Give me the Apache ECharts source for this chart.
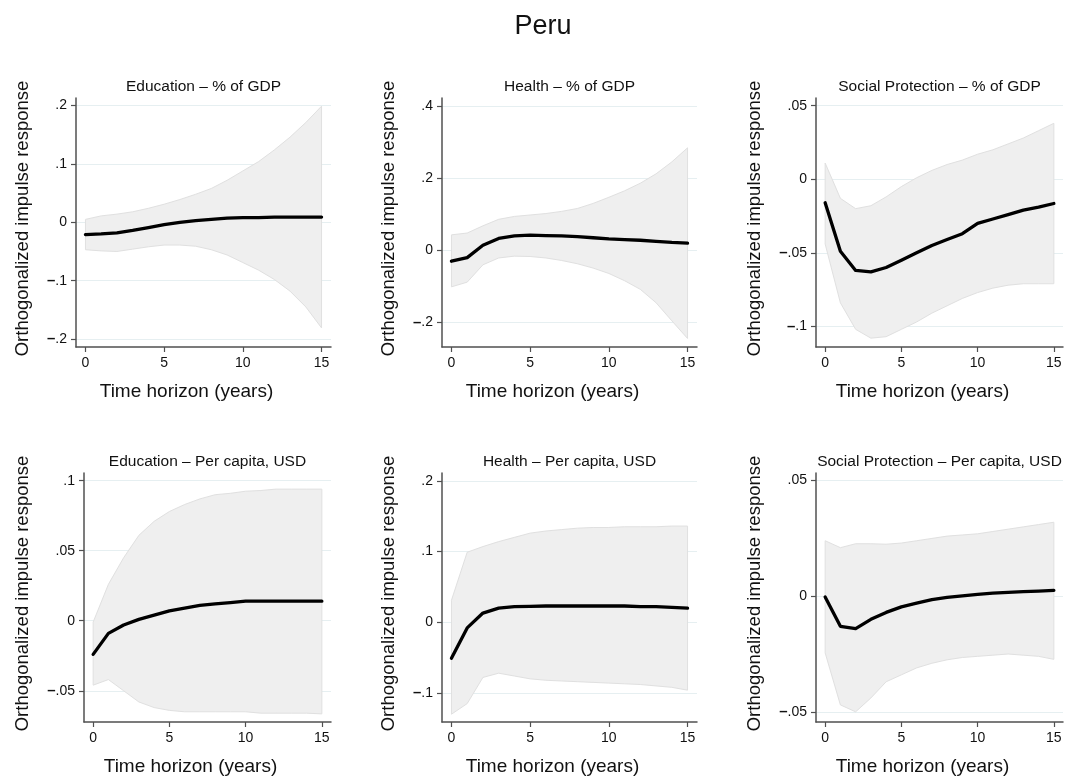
<!DOCTYPE html>
<html>
<head>
<meta charset="utf-8">
<title>Peru</title>
<script src="https://cdn.jsdelivr.net/npm/echarts@6/dist/echarts.min.js"></script>
<style>
  html, body { margin: 0; padding: 0; background: #fff; }
  #main { width: 1067px; height: 778px; }
</style>
</head>
<body>
<div id="main"></div>
<script>
// horizon (years)
var horizon = [0, 1, 2, 3, 4, 5, 6, 7, 8, 9, 10, 11, 12, 13, 14, 15];
var xTicks = [0, 5, 10, 15];

var panelTitles = [
  'Education – % of GDP', 'Health – % of GDP', 'Social Protection – % of GDP',
  'Education – Per capita, USD', 'Health – Per capita, USD', 'Social Protection – Per capita, USD'
];

// Education, % of GDP
var eduGdpMean  = [-0.021, -0.020, -0.018, -0.014, -0.009, -0.004, 0.000, 0.003, 0.005, 0.007, 0.008, 0.008, 0.009, 0.009, 0.009, 0.009];
var eduGdpLower = [-0.047, -0.049, -0.050, -0.046, -0.042, -0.039, -0.039, -0.041, -0.047, -0.056, -0.069, -0.082, -0.098, -0.118, -0.145, -0.181];
var eduGdpUpper = [0.005, 0.011, 0.014, 0.018, 0.024, 0.031, 0.039, 0.048, 0.058, 0.072, 0.088, 0.104, 0.124, 0.146, 0.171, 0.199];
var eduGdpTicks = [-0.2, -0.1, 0, 0.1, 0.2];

// Health, % of GDP
var hltGdpMean  = [-0.030, -0.020, 0.014, 0.033, 0.040, 0.042, 0.041, 0.040, 0.038, 0.035, 0.032, 0.030, 0.028, 0.025, 0.022, 0.020];
var hltGdpLower = [-0.101, -0.088, -0.040, -0.021, -0.016, -0.017, -0.021, -0.028, -0.037, -0.049, -0.064, -0.084, -0.108, -0.145, -0.195, -0.244];
var hltGdpUpper = [0.043, 0.048, 0.068, 0.086, 0.094, 0.098, 0.102, 0.108, 0.116, 0.130, 0.147, 0.165, 0.186, 0.212, 0.245, 0.284];
var hltGdpTicks = [-0.2, 0, 0.2, 0.4];

// Social protection, % of GDP
var spGdpMean  = [-0.016, -0.049, -0.062, -0.063, -0.060, -0.055, -0.050, -0.045, -0.041, -0.037, -0.030, -0.027, -0.024, -0.021, -0.019, -0.0165];
var spGdpLower = [-0.044, -0.084, -0.102, -0.108, -0.107, -0.102, -0.097, -0.091, -0.086, -0.081, -0.077, -0.074, -0.072, -0.071, -0.071, -0.071];
var spGdpUpper = [0.011, -0.013, -0.020, -0.018, -0.012, -0.005, 0.001, 0.006, 0.010, 0.013, 0.017, 0.020, 0.024, 0.028, 0.033, 0.038];
var spGdpTicks = [-0.1, -0.05, 0, 0.05];

// Education, per capita USD
var eduPcMean  = [-0.024, -0.009, -0.003, 0.001, 0.004, 0.007, 0.009, 0.011, 0.012, 0.013, 0.014, 0.014, 0.014, 0.014, 0.014, 0.014];
var eduPcLower = [-0.046, -0.042, -0.050, -0.058, -0.062, -0.064, -0.065, -0.065, -0.065, -0.065, -0.065, -0.066, -0.066, -0.066, -0.066, -0.0665];
var eduPcUpper = [-0.001, 0.026, 0.045, 0.061, 0.071, 0.078, 0.083, 0.087, 0.090, 0.091, 0.0925, 0.093, 0.094, 0.094, 0.094, 0.094];
var eduPcTicks = [-0.05, 0, 0.05, 0.1];

// Health, per capita USD
var hltPcMean  = [-0.051, -0.008, 0.013, 0.020, 0.022, 0.0225, 0.023, 0.023, 0.023, 0.023, 0.023, 0.023, 0.022, 0.022, 0.021, 0.020];
var hltPcLower = [-0.130, -0.115, -0.078, -0.072, -0.076, -0.080, -0.082, -0.083, -0.084, -0.085, -0.086, -0.087, -0.088, -0.090, -0.092, -0.096];
var hltPcUpper = [0.031, 0.099, 0.107, 0.114, 0.120, 0.126, 0.129, 0.131, 0.133, 0.134, 0.134, 0.135, 0.135, 0.135, 0.136, 0.136];
var hltPcTicks = [-0.1, 0, 0.1, 0.2];

// Social protection, per capita USD
var spPcMean  = [-0.0003, -0.013, -0.014, -0.010, -0.007, -0.0046, -0.003, -0.0015, -0.0005, 0.0002, 0.0008, 0.0013, 0.0017, 0.002, 0.0022, 0.0025];
var spPcLower = [-0.0245, -0.047, -0.050, -0.044, -0.037, -0.034, -0.031, -0.029, -0.0275, -0.0265, -0.026, -0.0255, -0.025, -0.0255, -0.026, -0.0273];
var spPcUpper = [0.024, 0.021, 0.0227, 0.0227, 0.0225, 0.023, 0.024, 0.025, 0.026, 0.0265, 0.027, 0.028, 0.029, 0.030, 0.031, 0.032];
var spPcTicks = [-0.05, 0, 0.05];

var means  = [eduGdpMean, hltGdpMean, spGdpMean, eduPcMean, hltPcMean, spPcMean];
var lowers = [eduGdpLower, hltGdpLower, spGdpLower, eduPcLower, hltPcLower, spPcLower];
var uppers = [eduGdpUpper, hltGdpUpper, spGdpUpper, eduPcUpper, hltPcUpper, spPcUpper];
var yTicks = [eduGdpTicks, hltGdpTicks, spGdpTicks, eduPcTicks, hltPcTicks, spPcTicks];

// layout of each plot region (pixels) and axis ranges
var layout = [
  { left: 76,  top: 98,  width: 255, yMin: -0.2137, yMax: 0.213,  yGap: 44 },
  { left: 442, top: 98,  width: 255, yMin: -0.2676, yMax: 0.422,  yGap: 44 },
  { left: 816, top: 98,  width: 247, yMin: -0.114,  yMax: 0.0552, yGap: 52 },
  { left: 84,  top: 473, width: 247, yMin: -0.0723, yMax: 0.1055, yGap: 52 },
  { left: 442, top: 473, width: 255, yMin: -0.141,  yMax: 0.211,  yGap: 44 },
  { left: 816, top: 473, width: 247, yMin: -0.0544, yMax: 0.0533, yGap: 52 }
];
var plotH = 249;
var font = 'Liberation Sans, Arial, Helvetica, sans-serif';
var axisColor = '#505050';

// Stata-like tick numbers: ".2", "0", "–.05"
function stataNum(v) {
  if (Math.abs(v) < 1e-12) return '0';
  var s = String(Math.abs(v)).replace(/^0/, '');
  return v < 0 ? '{m|–}' + s : s;
}

function bandRenderer(lo, hi) {
  return function (params, api) {
    if (params.dataIndex !== 0) return null;
    var pts = [], k;
    for (k = 0; k < horizon.length; k++) pts.push(api.coord([horizon[k], hi[k]]));
    for (k = horizon.length - 1; k >= 0; k--) pts.push(api.coord([horizon[k], lo[k]]));
    return {
      type: 'polygon',
      shape: { points: pts },
      style: { fill: '#efefef', stroke: '#e0e0e0', lineWidth: 1 }
    };
  };
}

var titles = [{
  text: 'Peru', left: 543, top: 13, textAlign: 'center', padding: 0,
  textStyle: { fontFamily: font, fontSize: 27, fontWeight: 'normal', color: '#111' }
}];
var grids = [], xAxes = [], yAxes = [], series = [];

layout.forEach(function (p, i) {
  grids.push({ left: p.left, top: p.top, width: p.width, height: plotH, containLabel: false });
  titles.push({
    text: panelTitles[i], left: p.left + p.width / 2, top: p.top - 19, textAlign: 'center', padding: 0,
    textStyle: { fontFamily: font, fontSize: 15.5, fontWeight: 'normal', color: '#111' }
  });
  xAxes.push({
    gridIndex: i, type: 'value', min: -0.6, max: 15.6,
    axisLine: { show: true, onZero: false, lineStyle: { color: axisColor, width: 1.5 } },
    axisTick: { show: true, customValues: xTicks, length: 5, lineStyle: { color: axisColor, width: 1.2 } },
    axisLabel: { customValues: xTicks, fontFamily: font, fontSize: 14, color: '#111', margin: 9 },
    splitLine: { show: false },
    name: 'Time horizon (years)', nameLocation: 'middle', nameGap: 35,
    nameTextStyle: { fontFamily: font, fontSize: 19, color: '#111', padding: [0, 34, 0, 0] }
  });
  yAxes.push({
    gridIndex: i, type: 'value', min: p.yMin, max: p.yMax,
    axisLine: { show: true, onZero: false, lineStyle: { color: axisColor, width: 1.5 } },
    axisTick: { show: true, customValues: yTicks[i], length: 5, lineStyle: { color: axisColor, width: 1.2 } },
    axisLabel: {
      customValues: yTicks[i], formatter: stataNum, fontFamily: font, fontSize: 14, color: '#111', margin: 9,
      rich: { m: { fontFamily: font, fontSize: 15, fontWeight: 'bold', color: '#111' } }
    },
    splitLine: { show: true, lineStyle: { color: '#e6eff1', width: 1 } },
    name: 'Orthogonalized impulse response', nameLocation: 'middle', nameGap: p.yGap,
    nameTextStyle: { fontFamily: font, fontSize: 18.5, color: '#111', padding: [0, 0, 0, 8] }
  });
  series.push({
    type: 'custom', xAxisIndex: i, yAxisIndex: i, silent: true, z: 1,
    renderItem: bandRenderer(lowers[i], uppers[i]),
    encode: { x: 0, y: [1, 2] },
    data: horizon.map(function (t, k) { return [t, lowers[i][k], uppers[i][k]]; })
  });
  series.push({
    type: 'line', xAxisIndex: i, yAxisIndex: i, symbol: 'none', silent: true, z: 3,
    lineStyle: { color: '#000', width: 3.3, join: 'round', cap: 'round' },
    data: horizon.map(function (t, k) { return [t, means[i][k]]; })
  });
});

var chart = echarts.init(document.getElementById('main'));
chart.setOption({
  backgroundColor: '#fff',
  animation: false,
  title: titles,
  grid: grids,
  xAxis: xAxes,
  yAxis: yAxes,
  series: series
});
</script>
</body>
</html>
